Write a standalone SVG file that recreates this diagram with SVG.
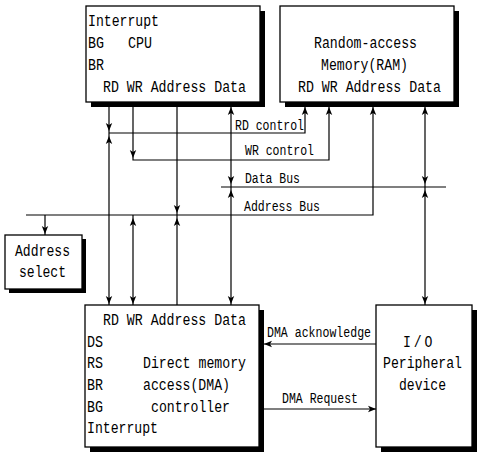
<svg xmlns="http://www.w3.org/2000/svg" xmlns:xlink="http://www.w3.org/1999/xlink" width="481" height="456" viewBox="0 0 481 456">
<defs>
<style>
.box{fill:#fff;stroke:#000;stroke-width:1.3}
.sh{fill:#000}
.t{font-family:"Liberation Mono","DejaVu Sans Mono",monospace;font-size:16px;fill:#000}
.l{font-family:"Liberation Mono","DejaVu Sans Mono",monospace;font-size:14.5px;fill:#000}
.c{fill:none;stroke:#000;stroke-width:1.2}
</style>
<path id="ah" d="M0,0 L-3.2,-8 L0,-6 L3.2,-8 Z" fill="#000"/>
</defs>
<rect width="481" height="456" fill="#fff"/>
<g id="connectors">
<path class="c" d="M109,103 V305 M133,103 V160 H329 V103 M133,215 V305 M177,103 V305 M231,103 V305 M109,133 H305 V103 M221,187 H446 M26,215 H373 V103 M425,103 V305 M45,215 V235 M376,344 H263 M259,409 H376"/>
<use xlink:href="#ah" transform="translate(109,131)"/>
<use xlink:href="#ah" transform="translate(109,136) rotate(180)"/>
<use xlink:href="#ah" transform="translate(109,304)"/>
<use xlink:href="#ah" transform="translate(133,158)"/>
<use xlink:href="#ah" transform="translate(133,218) rotate(180)"/>
<use xlink:href="#ah" transform="translate(133,304)"/>
<use xlink:href="#ah" transform="translate(177,213)"/>
<use xlink:href="#ah" transform="translate(177,218) rotate(180)"/>
<use xlink:href="#ah" transform="translate(231,107) rotate(180)"/>
<use xlink:href="#ah" transform="translate(231,184)"/>
<use xlink:href="#ah" transform="translate(231,190) rotate(180)"/>
<use xlink:href="#ah" transform="translate(231,304)"/>
<use xlink:href="#ah" transform="translate(305,107) rotate(180)"/>
<use xlink:href="#ah" transform="translate(329,107) rotate(180)"/>
<use xlink:href="#ah" transform="translate(373,107) rotate(180)"/>
<use xlink:href="#ah" transform="translate(425,107) rotate(180)"/>
<use xlink:href="#ah" transform="translate(425,184)"/>
<use xlink:href="#ah" transform="translate(425,190) rotate(180)"/>
<use xlink:href="#ah" transform="translate(425,304)"/>
<use xlink:href="#ah" transform="translate(45,234)"/>
<use xlink:href="#ah" transform="translate(264,344) rotate(90)"/>
<use xlink:href="#ah" transform="translate(376,409) rotate(-90)"/>
<text class="l" x="235" y="130" textLength="69" lengthAdjust="spacingAndGlyphs">RD control</text>
<text class="l" x="245" y="155" textLength="69" lengthAdjust="spacingAndGlyphs">WR control</text>
<text class="l" x="245" y="183" textLength="55" lengthAdjust="spacingAndGlyphs">Data Bus</text>
<text class="l" x="244" y="211" textLength="76" lengthAdjust="spacingAndGlyphs">Address Bus</text>
<text class="l" x="267" y="337" textLength="104" lengthAdjust="spacingAndGlyphs">DMA acknowledge</text>
<text class="l" x="282" y="403" textLength="76" lengthAdjust="spacingAndGlyphs">DMA Request</text>
</g>
<g id="cpu">
<rect class="sh" x="91" y="11" width="174" height="96"/>
<rect class="box" x="86" y="6" width="174" height="96"/>
<text class="t" x="88" y="26" textLength="71" lengthAdjust="spacingAndGlyphs">Interrupt</text>
<text class="t" x="88" y="48" textLength="16" lengthAdjust="spacingAndGlyphs">BG</text>
<text class="t" x="128" y="48" textLength="24" lengthAdjust="spacingAndGlyphs">CPU</text>
<text class="t" x="88" y="70" textLength="16" lengthAdjust="spacingAndGlyphs">BR</text>
<text class="t" x="103" y="92" textLength="143" lengthAdjust="spacingAndGlyphs">RD WR Address Data</text>
</g>
<g id="ram">
<rect class="sh" x="285" y="11" width="174" height="96"/>
<rect class="box" x="280" y="6" width="174" height="96"/>
<text class="t" x="314" y="48" textLength="103" lengthAdjust="spacingAndGlyphs">Random-access</text>
<text class="t" x="321" y="70" textLength="87" lengthAdjust="spacingAndGlyphs">Memory(RAM)</text>
<text class="t" x="298" y="92" textLength="143" lengthAdjust="spacingAndGlyphs">RD WR Address Data</text>
</g>
<g id="address-select">
<rect class="sh" x="9" y="239" width="77" height="54"/>
<rect class="box" x="5" y="235" width="77" height="54"/>
<text class="t" x="15" y="256" textLength="55" lengthAdjust="spacingAndGlyphs">Address</text>
<text class="t" x="19" y="277" textLength="47" lengthAdjust="spacingAndGlyphs">select</text>
</g>
<g id="dma">
<rect class="sh" x="90" y="310" width="174" height="142"/>
<rect class="box" x="85" y="305" width="174" height="142"/>
<text class="t" x="103" y="325" textLength="143" lengthAdjust="spacingAndGlyphs">RD WR Address Data</text>
<text class="t" x="87" y="347" textLength="16" lengthAdjust="spacingAndGlyphs">DS</text>
<text class="t" x="87" y="368" textLength="16" lengthAdjust="spacingAndGlyphs">RS</text>
<text class="t" x="143" y="368" textLength="103" lengthAdjust="spacingAndGlyphs">Direct memory</text>
<text class="t" x="87" y="390" textLength="16" lengthAdjust="spacingAndGlyphs">BR</text>
<text class="t" x="143" y="390" textLength="87" lengthAdjust="spacingAndGlyphs">access(DMA)</text>
<text class="t" x="87" y="412" textLength="16" lengthAdjust="spacingAndGlyphs">BG</text>
<text class="t" x="151" y="412" textLength="79" lengthAdjust="spacingAndGlyphs">controller</text>
<text class="t" x="87" y="433" textLength="71" lengthAdjust="spacingAndGlyphs">Interrupt</text>
</g>
<g id="io">
<rect class="sh" x="381" y="310" width="96" height="142"/>
<rect class="box" x="376" y="305" width="96" height="142"/>
<text class="t" transform="translate(403,347) scale(0.82,1)" letter-spacing="3.5">I/O</text>
<text class="t" x="383" y="368" textLength="79" lengthAdjust="spacingAndGlyphs">Peripheral</text>
<text class="t" x="399" y="390" textLength="47" lengthAdjust="spacingAndGlyphs">device</text>
</g>
</svg>
